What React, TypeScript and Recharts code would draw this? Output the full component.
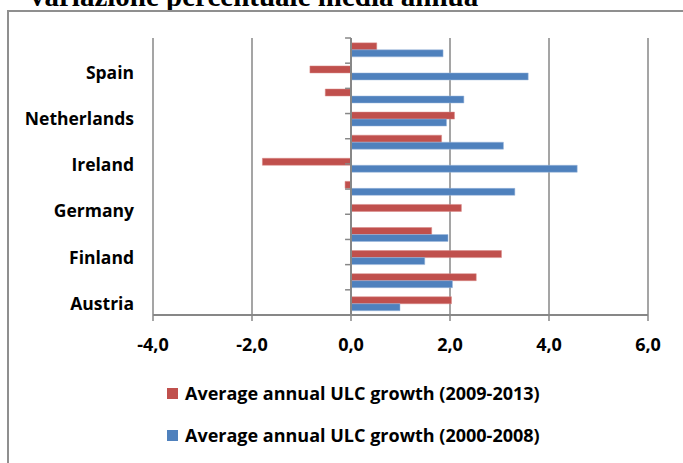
import { BarChart, Bar, XAxis, YAxis, CartesianGrid, ReferenceLine, Legend } from "recharts";

// Average annual ULC growth, % — categories bottom to top
const countries = [
  "Austria",
  "Belgium",
  "Finland",
  "France",
  "Germany",
  "Greece",
  "Ireland",
  "Italy",
  "Netherlands",
  "Portugal",
  "Spain",
  "Euro area",
];
const growth2009to2013 = [2.03, 2.53, 3.04, 1.63, 2.23, -0.12, -1.79, 1.83, 2.09, -0.52, -0.83, 0.52];
const growth2000to2008 = [0.99, 2.05, 1.49, 1.96, 0, 3.31, 4.57, 3.08, 1.93, 2.28, 3.58, 1.86];
const xTicks = [-4, -2, 0, 2, 4, 6];
// category boundaries on the helper axis (0 = bottom of Austria, 12 = top)
const bandEdges = [0, 1, 2, 3, 4, 5, 6, 7, 8, 9, 10, 11, 12];
const seriesOrder = ["late", "early"];

const RED = "#C0504D";
const BLUE = "#4F81BD";
const AXIS = "#878787";
const FONT = "'Open Sans', sans-serif";

const data = countries.map((country, i) => ({
  country,
  late: growth2009to2013[i],
  early: growth2000to2008[i],
}));

const fmt = (v: number) => v.toFixed(1).replace(".", ",");

const LegendContent = ({
  payload,
}: {
  payload?: Array<{ value: string; color: string; dataKey?: string }>;
}) => {
  // keep the legend in the same order as the series (legend sorts by name otherwise)
  const items = [...(payload ?? [])].sort(
    (a, b) => seriesOrder.indexOf(String(a.dataKey)) - seriesOrder.indexOf(String(b.dataKey))
  );
  return (
    <div style={{ fontFamily: FONT, fontWeight: 700, fontSize: 18, color: "#000" }}>
      {items.map((p) => (
        <div key={p.value} style={{ display: "flex", alignItems: "center", height: 42 }}>
          <div style={{ width: 11, height: 11, background: p.color, marginRight: 7 }} />
          <span>{p.value}</span>
        </div>
      ))}
    </div>
  );
};

export default function App() {
  return (
    <div style={{ position: "absolute", left: 0, top: 0, width: 683, height: 463, overflow: "hidden", background: "#fff" }}>
      <svg width={683} height={20} style={{ position: "absolute", left: 0, top: 0 }}>
        <text x={30} y={6} fontFamily="'Liberation Serif', serif" fontWeight={700} fontSize={29} fill="#000">
          variazione percentuale media annua
        </text>
      </svg>
      <div
        style={{
          position: "absolute",
          left: 7,
          top: 10,
          width: 720,
          height: 500,
          border: "2px solid #8f8f8f",
          boxSizing: "border-box",
        }}
      />
      <div style={{ position: "absolute", left: 0, top: 0 }}>
        <BarChart
          width={683}
          height={463}
          data={data}
          layout="vertical"
          margin={{ top: 38, right: 35, bottom: 108, left: 0 }}
          barCategoryGap="21%"
          barGap={0}
        >
          <CartesianGrid horizontal={false} stroke={AXIS} strokeWidth={1.5} />
          <XAxis
            type="number"
            domain={[-4, 6]}
            ticks={xTicks}
            tickFormatter={fmt}
            height={40}
            stroke={AXIS}
            tickSize={6}
            tickMargin={17}
            axisLine={{ stroke: AXIS, strokeWidth: 2 }}
            tickLine={{ stroke: AXIS, strokeWidth: 1.5 }}
            tick={{ fontSize: 18, fontWeight: 700, fill: "#000", fontFamily: FONT }}
          />
          <YAxis
            type="category"
            dataKey="country"
            reversed
            interval={1}
            width={153}
            tickSize={0}
            tickMargin={19}
            axisLine={false}
            tickLine={false}
            tick={{ fontSize: 17.5, fontWeight: 700, fill: "#000", fontFamily: FONT }}
          />
          <YAxis yAxisId="edges" type="number" domain={[0, 12]} hide />
          <Bar
            dataKey="late"
            name="Average annual ULC growth (2009-2013)"
            fill={RED}
            stroke="#d98886"
            strokeWidth={0.5}
            isAnimationActive={false}
          />
          <Bar
            dataKey="early"
            name="Average annual ULC growth (2000-2008)"
            fill={BLUE}
            stroke="#9fb9dc"
            strokeWidth={0.5}
            isAnimationActive={false}
          />
          <ReferenceLine x={0} stroke={AXIS} strokeWidth={2} />
          {bandEdges.map((k) => (
            <ReferenceLine
              key={k}
              yAxisId="edges"
              segment={[
                { x: -0.12, y: k },
                { x: 0, y: k },
              ]}
              stroke={AXIS}
              strokeWidth={1.5}
            />
          ))}
          <Legend
            layout="vertical"
            align="center"
            verticalAlign="middle"
            wrapperStyle={{ left: 167, top: 372, width: 420 }}
            content={<LegendContent />}
          />
        </BarChart>
      </div>
    </div>
  );
}
